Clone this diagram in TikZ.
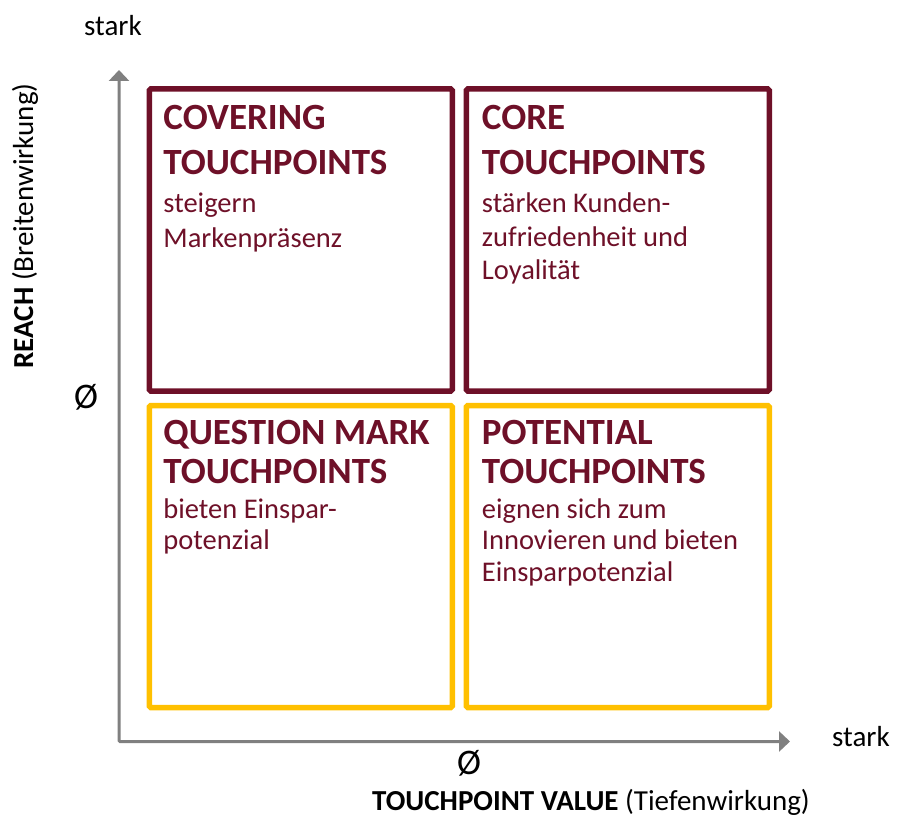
\documentclass[tikz,border=0pt]{standalone}
\usepackage{fontspec}
\setmainfont{Carlito}
\usetikzlibrary{arrows.meta,positioning}
\definecolor{weinrot}{RGB}{110,16,40}
\definecolor{gelb}{RGB}{255,192,0}
\definecolor{achse}{RGB}{128,128,128}
\begin{document}
\begin{tikzpicture}[x=1pt,y=-1pt,
feld/.style={%
draw=#1,
line width=5.5pt,
rounded corners=1.5pt,
minimum width=303pt,
minimum height=302pt,
outer sep=0pt,
inner sep=0pt,
},
titel/.style={%
anchor=north west,
inner sep=0pt,
align=left,
text=weinrot,
font=\fontsize{37}{#1}\selectfont\bfseries\rule[-5pt]{0pt}{27pt},
},
info/.style={%
anchor=north west,
inner sep=0pt,
align=left,
text=weinrot,
font=\fontsize{28.5}{#1}\selectfont\rule[-7pt]{0pt}{21pt},
},
achsentext/.style={%
inner sep=0pt,
font=\fontsize{29}{34}\selectfont,
},
]
\useasboundingbox (0,0) rectangle (898,816);
% Achsen
\coordinate (origin) at (119,741.5);
\coordinate (ytip) at (119,70);
\coordinate (xtip) at (790,741.5);
\draw[achse,line width=3pt,rounded corners=1pt,
  {Triangle[length=11pt,width=20pt]}-{Triangle[length=11pt,width=20pt]}]
  (ytip) -- (origin) -- (xtip);
% Felder
\node[feld=weinrot] (covering) at (300.75,240) {};
\node[feld=weinrot] (core) at (617.75,240) {};
\node[feld=gelb] (question) at (300.75,556.5) {};
\node[feld=gelb] (potential) at (617.75,556.5) {};
%% oben
\node[titel=45] (covT) at ([shift={(14,16)}]covering.north west)
  {COVERING\\TOUCHPOINTS};
\node[info=34.5] (covB) at ([shift={(14,104)}]covering.north west)
  {steigern\\Markenpräsenz};
\node[titel=45] (coreT) at ([shift={(15.5,16)}]core.north west)
  {CORE\\TOUCHPOINTS};
\node[info=33.5] (coreB) at ([shift={(15.5,104)}]core.north west)
  {stärken Kunden-\\zufriedenheit und\\Loyalität};
%% unten
\node[titel=39] (quesT) at ([shift={(14,15)}]question.north west)
  {QUESTION MARK\\TOUCHPOINTS};
\node[info=31.5] (quesB) at ([shift={(14,93)}]question.north west)
  {bieten Einspar-\\potenzial};
\node[titel=39] (potT) at ([shift={(15.5,15)}]potential.north west)
  {POTENTIAL\\TOUCHPOINTS};
\node[info=31.5] (potB) at ([shift={(15.5,93)}]potential.north west)
  {eignen sich zum\\Innovieren und bieten\\Einsparpotenzial};
% Beschriftung
\node[achsentext,anchor=base] (ystark) at (113,36) {stark};
\node[achsentext,anchor=base west] (xstark) at (832,746) {stark};
\node[achsentext,font=\fontsize{36}{40}\selectfont] (ynull) at (86,397) {Ø};
\node[achsentext,font=\fontsize{36}{40}\selectfont] (xnull) at (469,763) {Ø};
\node[achsentext,rotate=90,anchor=base] (reach) at (33,226)
  {\textbf{REACH} (Breitenwirkung)};
\node[achsentext,anchor=base] (value) at (591,810)
  {\textbf{TOUCHPOINT VALUE} (Tiefenwirkung)};
\end{tikzpicture}
\end{document}
